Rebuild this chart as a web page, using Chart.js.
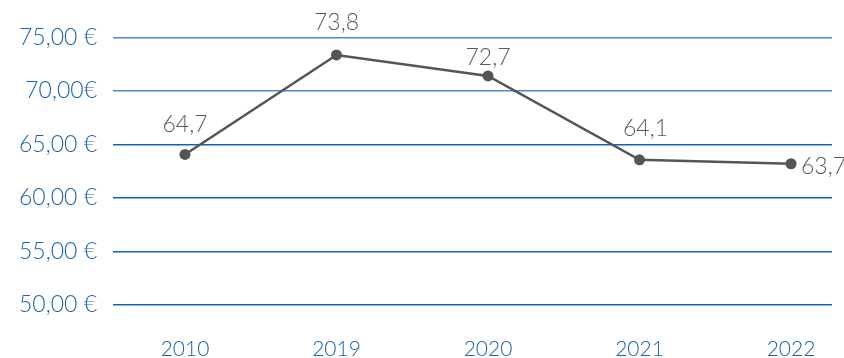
<!DOCTYPE html>
<html>
<head>
<meta charset="utf-8">
<script src="https://cdn.jsdelivr.net/npm/chart.js@4/dist/chart.umd.min.js"></script>
<style>
  html, body { margin: 0; padding: 0; background: #ffffff; }
  #wrap { width: 844px; height: 358px; }
</style>
</head>
<body>
<div id="wrap"><canvas id="c" width="844" height="358"></canvas></div>
<script>
// ---- data ----
const categories = ['2010', '2019', '2020', '2021', '2022'];
const values = [64.07, 73.37, 71.41, 63.57, 63.2];
const valueLabels = ['64,7', '73,8', '72,7', '64,1', '63,7'];
const yTickLabels = { 50: '50,00 €', 55: '55,00 €', 60: '60,00 €', 65: '65,00 €', 70: '70,00€', 75: '75,00 €' };

const BLUE = '#1a62ae';
const GRAY = '#5a5a5a';
const FONT = 'Lato, "Open Sans", sans-serif';

// label placement (styling, not data)
const labelPlacement = [
  { dx: 0, dy: -30, align: 'center' },
  { dx: 0, dy: -32, align: 'center' },
  { dx: 0, dy: -18, align: 'center' },
  { dx: 6, dy: -31, align: 'center' },
  { dx: 10, dy: 3, align: 'left' }
];

const labelPlugin = {
  id: 'valueLabels',
  afterDatasetsDraw(chart) {
    const ctx = chart.ctx;
    const meta = chart.getDatasetMeta(0);
    ctx.save();
    ctx.font = '300 23px ' + FONT;
    ctx.fillStyle = GRAY;
    ctx.textBaseline = 'middle';
    meta.data.forEach((pt, i) => {
      const p = labelPlacement[i];
      ctx.textAlign = p.align;
      ctx.fillText(valueLabels[i], pt.x + p.dx, pt.y + p.dy);
    });
    ctx.restore();
  }
};

new Chart(document.getElementById('c'), {
  type: 'line',
  data: {
    datasets: [{
      data: categories.map((c, i) => ({ x: i, y: values[i] })),
      borderColor: '#555555',
      borderWidth: 2.5,
      pointRadius: 5.5,
      pointHoverRadius: 5.5,
      pointBackgroundColor: '#555555',
      pointBorderColor: '#555555',
      pointBorderWidth: 0,
      tension: 0,
      clip: false
    }]
  },
  options: {
    responsive: false,
    animation: false,
    events: [],
    layout: { padding: { top: 37.5, right: 12, left: 0, bottom: 0 } },
    plugins: { legend: { display: false }, tooltip: { enabled: false } },
    scales: {
      x: {
        type: 'linear',
        min: -0.4752,
        max: 4.2706,
        grid: { display: false, drawTicks: false },
        border: { display: false },
        afterBuildTicks(scale) { scale.ticks = categories.map((c, i) => ({ value: i })); },
        afterFit(scale) { scale.height = 53; scale.paddingLeft = 0; scale.paddingRight = 0; },
        ticks: {
          autoSkip: false,
          maxRotation: 0,
          padding: 32,
          color: BLUE,
          font: { family: FONT, size: 21, weight: '300' },
          callback: (v) => categories[v] ?? ''
        }
      },
      y: {
        min: 50,
        max: 75,
        grid: {
          drawTicks: false,
          lineWidth: 1.5,
          color: (ctx) => (ctx.tick && ctx.tick.value >= 70 ? '#4f87c4' : '#1560b0')
        },
        border: { display: false },
        afterFit(scale) { scale.width = 113; scale.paddingTop = 0; scale.paddingBottom = 0; },
        ticks: {
          stepSize: 5,
          padding: 16,
          color: BLUE,
          font: { family: FONT, size: 23, weight: '300' },
          callback: (v) => yTickLabels[v] ?? ''
        }
      }
    }
  },
  plugins: [labelPlugin]
});
</script>
</body>
</html>
